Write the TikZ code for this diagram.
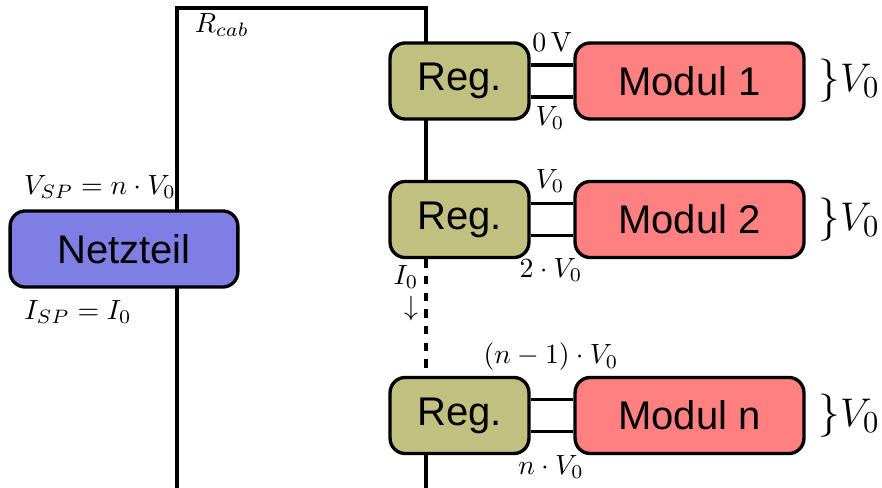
\documentclass[tikz,border=0pt]{standalone}
\usepackage{fontspec}
\setsansfont{Liberation Sans}
\usetikzlibrary{backgrounds}

\definecolor{psufill}{RGB}{126,126,228}
\definecolor{regfill}{RGB}{192,192,128}
\definecolor{modfill}{RGB}{255,128,128}

\tikzset{
  box/.style={draw, line width=1.2pt, rounded corners=5.5pt, inner sep=0pt,
    font=\sffamily\Large, minimum height=27.4pt},
  psubox/.style={box, fill=psufill, minimum width=82pt},
  regbox/.style={box, fill=regfill, minimum width=50pt},
  modbox/.style={box, fill=modfill, minimum width=82.4pt},
  wire/.style={line width=1.2pt},
  lbl/.style={inner sep=0pt},
  dlbl/.style={lbl, anchor=west, font=\fontsize{15.6}{18}\selectfont},
}

\begin{document}
\begin{tikzpicture}[x=0.36pt, y=-0.36pt]
  \useasboundingbox (0,0) rectangle (882,488);

  % power supply
  \node[psubox] (psu) at (124,249) {Netzteil};

  % regulators and modules
  \node[regbox] (reg1) at (459.5,81)    {Reg.};
  \node[regbox] (reg2) at (459.5,219.5) {Reg.};
  \node[regbox] (reg3) at (459.5,415.5) {Reg.};
  \node[modbox] (mod1) at (689.5,81)    {Modul 1};
  \node[modbox] (mod2) at (689.5,219.5) {Modul 2};
  \node[modbox] (mod3) at (689.5,415.5) {Modul n};

  % cable corners
  \coordinate (lb) at (177,488);
  \coordinate (lt) at (177,8);
  \coordinate (rt) at (426,8);
  \coordinate (rb) at (426,488);

  \begin{scope}[on background layer]
    \draw[wire] (lb) -- (lt) -- (rt) -- (rt |- reg2.south);
    \draw[wire, dashed] (rt |- reg2.south) -- (rt |- reg3.north);
    \draw[wire] (rt |- reg3.north) -- (rb);
  \end{scope}

  % regulator to module supply lines
  \foreach \r/\m in {reg1/mod1, reg2/mod2, reg3/mod3} {
    \draw[wire] ([yshift=5.76pt]\r.east) -- ([yshift=5.76pt]\m.west);
    \draw[wire] ([yshift=-5.76pt]\r.east) -- ([yshift=-5.76pt]\m.west);
  }

  % labels
  \node[lbl] (rcab) at (222,25) {$R_{cab}$};
  \node[lbl] (vsp) at (100,187) {$V_{SP}=n\cdot V_0$};
  \node[lbl] (isp) at (78,312) {$I_{SP}=I_0$};
  \node[lbl] (ilbl) at (406,277) {$I_0$};
  \node[lbl] (iarr) at (411,309) {$\downarrow$};

  \node[lbl] (u1t) at (552,42)  {$0\,$V};
  \node[lbl] (u1b) at (550,118) {$V_0$};
  \node[lbl] (u2t) at (550,181) {$V_0$};
  \node[lbl] (u2b) at (551,270) {$2\cdot V_0$};
  \node[lbl] (u3t) at (551,357) {$(n-1)\cdot V_0$};
  \node[lbl] (u3b) at (551,467) {$n\cdot V_0$};

  \node[dlbl] (d1) at (818,81)    {\}$V_0$};
  \node[dlbl] (d2) at (818,219.5) {\}$V_0$};
  \node[dlbl] (d3) at (818,415.5) {\}$V_0$};
\end{tikzpicture}
\end{document}
